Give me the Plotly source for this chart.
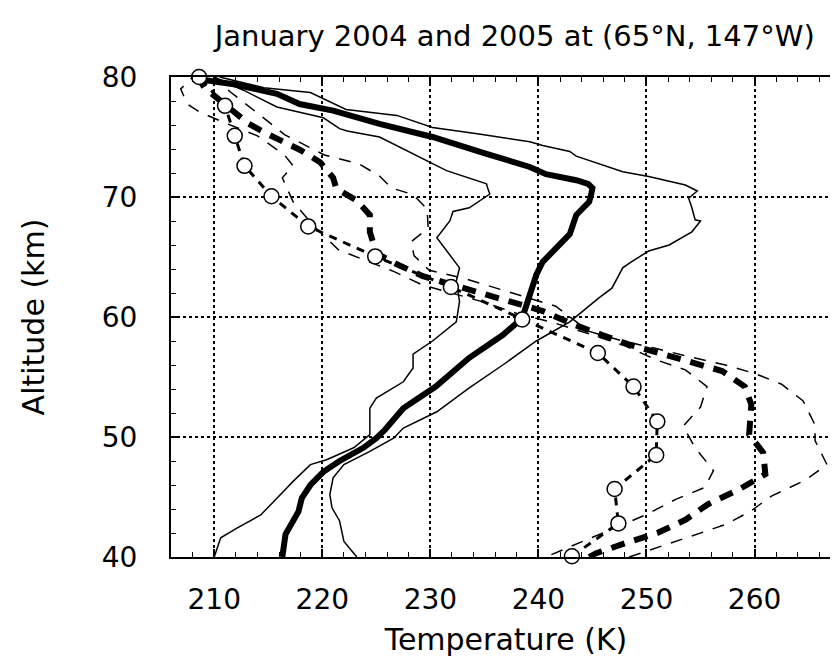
import plotly.graph_objects as go

# ---- data (Temperature K vs Altitude km) ----
mean04_T = [216.3, 216.6, 217.8, 218.1, 218.9, 220.1, 221.6, 223.8, 225.0, 225.8, 227.5, 230.5, 233.6, 236.7,
            238.5, 238.8, 239.2, 239.8, 240.4, 241.6, 242.9, 243.5, 244.7, 244.9, 245.0, 244.6, 243.5, 240.7,
            239.2, 235.2, 230.2, 225.3, 222.3, 221.0, 217.9, 215.8, 211.8, 208.7, 208.5]
mean04_z = [40, 41.9, 43.8, 44.9, 46.0, 47.1, 48.0, 49.1, 49.9, 50.6, 52.4, 54.2, 56.6, 58.5,
            59.9, 60.75, 61.9, 63.5, 64.6, 65.75, 66.9, 68.5, 69.6, 70.3, 70.75, 71.1, 71.4, 71.9,
            72.5, 73.6, 75.0, 76.1, 76.9, 77.2, 77.75, 78.6, 79.4, 79.8, 80]

warm04_T = [223.2, 222.0, 221.6, 220.9, 220.7, 221.0, 222.0, 224.4, 226.6, 227.5, 230.6, 233.6, 236.7, 239.8,
            242.9, 244.4, 245.6, 246.8, 247.8, 248.6, 250.2, 252.1, 254.2, 255.0, 254.5, 254.2, 253.9, 254.7,
            253.6, 250.2, 247.8, 243.5, 242.9, 240.4, 239.2, 234.5, 230.2, 226.9, 222.2, 218.9, 214.6, 210.5]
warm04_z = [40, 41.3, 43.0, 44.1, 45.2, 46.6, 47.7, 48.8, 49.9, 50.75, 52.1, 54.1, 56.0, 58.0,
            59.6, 60.75, 61.6, 62.4, 64.1, 64.6, 65.5, 66.0, 67.1, 68.0, 68.1, 69.1, 69.9, 70.5,
            71.0, 71.7, 72.1, 73.4, 73.8, 74.3, 74.6, 75.25, 75.8, 76.8, 77.3, 78.7, 79.1, 80]

cold04_T = [210.0, 210.6, 212.1, 214.3, 215.8, 217.3, 218.9, 220.4, 222.9, 224.4, 224.4, 224.4, 225.0, 227.5,
            228.4, 228.4, 230.2, 232.4, 232.7, 232.4, 232.7, 231.8, 230.6, 231.8, 232.1, 233.6, 235.5, 235.3,
            235.2, 231.5, 228.4, 225.3, 222.3, 221.6, 220.1, 215.8, 212.7, 210.0]
cold04_z = [40, 41.6, 42.4, 43.5, 44.9, 46.3, 47.7, 48.1, 49.1, 50.2, 50.5, 52.4, 53.25, 54.6,
            55.75, 56.9, 58.0, 59.6, 61.3, 63.0, 64.1, 65.2, 66.6, 68.0, 68.8, 69.1, 70.25, 70.75,
            71.1, 72.2, 73.6, 75.0, 75.5, 75.7, 76.6, 77.5, 78.9, 80]

mean05_T = [244.7, 245.3, 248.2, 251.0, 253.6, 255.7, 258.5, 261.0, 260.8, 259.5, 259.7, 259.1, 257.0, 253.9,
            251.1, 248.4, 245.9, 243.2, 240.4, 237.6, 234.9, 229.3, 226.9, 225.0, 224.4, 224.4, 223.2, 221.3,
            221.0, 219.8, 218.0, 216.4, 214.6, 213.2, 212.1, 210.3, 209.1, 208.5]
mean05_z = [40, 40.3, 41.2, 42.0, 43.1, 44.4, 45.6, 46.9, 48.7, 50.2, 52.7, 54.2, 55.5, 56.3,
            57.0, 57.7, 58.5, 59.4, 60.5, 61.2, 61.9, 63.4, 64.4, 65.3, 67.1, 68.5, 69.7, 70.7,
            71.6, 72.9, 73.9, 74.55, 75.4, 76.1, 76.9, 78.3, 79.1, 80]

warm05_T = [248.4, 252.0, 254.5, 257.3, 259.6, 261.6, 264.7, 266.7, 265.6, 265.6, 264.5, 262.5, 260.0, 257.3,
            253.9, 250.8, 247.8, 244.7, 241.6, 236.1, 233.0, 229.9, 228.5, 228.2, 229.8, 229.7, 228.4, 226.4,
            225.3, 223.4, 220.2, 216.5, 215.4, 211.5, 210.0]
warm05_z = [40, 41.1, 41.9, 42.7, 43.8, 45.1, 46.4, 47.7, 49.7, 51.0, 53.0, 54.4, 55.3, 56.0,
            56.7, 57.4, 58.0, 58.8, 60.9, 62.4, 63.25, 63.9, 65.1, 66.25, 67.4, 69.0, 70.2, 70.75,
            71.75, 72.75, 73.5, 75.2, 76.0, 78.75, 80]

cold05_T = [241.2, 249.9, 252.7, 255.4, 256.2, 254.5, 253.4, 255.0, 255.6, 253.6, 251.0, 248.0, 245.0, 241.5,
            238.0, 234.7, 229.2, 226.6, 221.5, 219.3, 217.3, 216.3, 217.3, 216.5, 214.0, 211.2, 208.6, 207.5,
            206.9, 208.0]
cold05_z = [40.2, 43.5, 44.8, 45.8, 47.2, 49.1, 50.9, 52.5, 54.2, 55.6, 56.4, 57.6, 58.5, 59.5,
            60.3, 61.3, 62.7, 63.8, 65.6, 67.5, 69.6, 71.6, 72.6, 73.5, 75.1, 76.1, 77.1, 77.75,
            79.0, 80]

model_T = [243.1, 247.4, 247.05, 250.9, 251.0, 248.8, 245.5, 238.5, 231.9, 224.9, 218.7, 215.3, 212.8, 211.9,
           211.0, 208.6]
model_z = [40.06, 42.8, 45.67, 48.5, 51.3, 54.2, 57.0, 59.8, 62.5, 65.05, 67.55, 70.06, 72.6, 75.1,
           77.6, 80]

FONT = "DejaVu Sans"

fig = go.Figure()

def add_line(T, z, width, dash):
    fig.add_trace(go.Scatter(x=T, y=z, mode="lines",
                             line=dict(color="black", width=width, dash=dash),
                             showlegend=False, hoverinfo="skip"))

add_line(cold04_T, cold04_z, 1.5, "solid")
add_line(warm04_T, warm04_z, 1.5, "solid")
add_line(cold05_T, cold05_z, 1.5, "12px,10px")
add_line(warm05_T, warm05_z, 1.5, "12px,10px")
add_line(mean04_T, mean04_z, 6, "solid")
add_line(mean05_T, mean05_z, 6, "14px,10px")

fig.add_trace(go.Scatter(x=model_T, y=model_z, mode="lines+markers",
                         line=dict(color="black", width=3, dash="8px,7px"),
                         marker=dict(symbol="circle", size=15, color="white",
                                     line=dict(color="black", width=1.5)),
                         cliponaxis=False, showlegend=False, hoverinfo="skip"))

axis_common = dict(
    showline=True, linecolor="black", linewidth=2, mirror="allticks",
    ticks="inside", ticklen=8, tickwidth=1.5, tickcolor="black",
    showgrid=True, gridcolor="black", griddash="dot", gridwidth=1.5,
    zeroline=False,
    tickfont=dict(family=FONT, size=28, color="black"),
)

fig.update_xaxes(range=[206, 268], tick0=0, dtick=10,
                 minor=dict(dtick=2, tick0=0, ticks="inside", ticklen=5, tickwidth=1.2,
                            tickcolor="black", showgrid=False),
                 ticklabelstandoff=16,
                 title=dict(text="Temperature (K)", font=dict(family=FONT, size=30, color="black"),
                            standoff=14),
                 **axis_common)
fig.update_yaxes(range=[40, 80], tick0=0, dtick=10,
                 minor=dict(dtick=2, tick0=0, ticks="inside", ticklen=5, tickwidth=1.2,
                            tickcolor="black", showgrid=False),
                 ticklabelstandoff=26,
                 title=dict(text="Altitude (km)", font=dict(family=FONT, size=30, color="black"),
                            standoff=48),
                 **axis_common)

fig.update_layout(
    width=838, height=664,
    margin=dict(l=163, r=3, t=69, b=115),
    paper_bgcolor="white", plot_bgcolor="white",
    title=dict(text="January 2004 and 2005 at (65°N, 147°W)",
               font=dict(family=FONT, size=29, color="black"),
               x=0.513, xanchor="center", y=0.958, yanchor="middle", xref="paper", yref="container"),
)

fig.write_html("out.html")
